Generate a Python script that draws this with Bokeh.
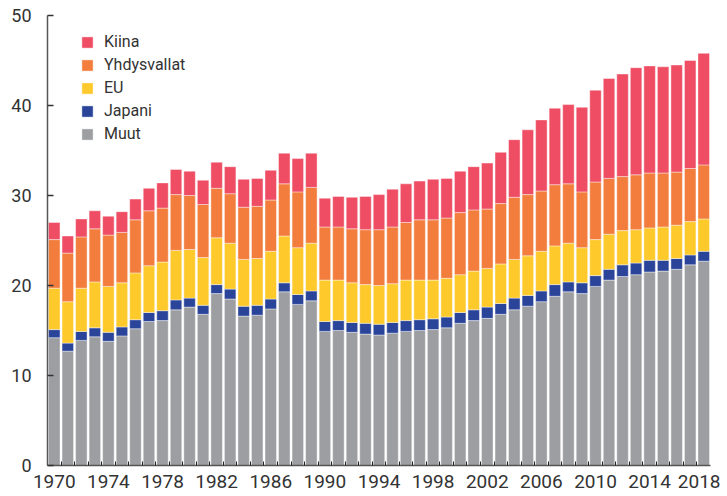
from bokeh.plotting import figure
from bokeh.models import ColumnDataSource, FixedTicker, Legend, LegendItem, Range1d
from bokeh.embed import file_html
from bokeh.resources import INLINE

years = list(range(1970, 2019))
tick_years = list(range(1970, 2019, 4))

muut = [14.2, 12.7, 13.9, 14.3, 13.8, 14.4, 15.2, 16.0, 16.1, 17.3,
        17.6, 16.8, 19.1, 18.5, 16.6, 16.7, 17.4, 19.3, 17.9, 18.3,
        14.9, 15.0, 14.8, 14.6, 14.5, 14.7, 14.9, 15.0, 15.1, 15.3,
        15.8, 16.1, 16.35, 16.8, 17.3, 17.7, 18.2, 18.8, 19.3, 19.1,
        19.9, 20.6, 21.0, 21.2, 21.5, 21.6, 21.8, 22.3, 22.7]
japani = [0.9, 0.9, 1.0, 1.0, 1.0, 1.0, 1.0, 1.0, 1.1, 1.1,
          1.0, 1.0, 1.0, 1.1, 1.1, 1.1, 1.1, 1.0, 1.1, 1.1,
          1.1, 1.1, 1.1, 1.2, 1.2, 1.2, 1.2, 1.2, 1.2, 1.2,
          1.2, 1.2, 1.25, 1.2, 1.3, 1.2, 1.2, 1.3, 1.1, 1.2,
          1.2, 1.2, 1.3, 1.3, 1.3, 1.2, 1.2, 1.1, 1.1]
eu = [4.6, 4.6, 4.8, 5.1, 5.1, 4.9, 5.2, 5.2, 5.4, 5.5,
      5.4, 5.3, 5.2, 5.1, 5.2, 5.2, 5.3, 5.2, 5.2, 5.3,
      4.6, 4.5, 4.4, 4.3, 4.3, 4.3, 4.5, 4.4, 4.3, 4.3,
      4.2, 4.3, 4.3, 4.4, 4.3, 4.4, 4.4, 4.3, 4.3, 3.9,
      4.0, 3.9, 3.8, 3.7, 3.6, 3.7, 3.7, 3.7, 3.6]
yhdysvallat = [5.4, 5.4, 5.7, 5.9, 5.7, 5.6, 5.9, 6.1, 6.0, 6.2,
               6.0, 5.9, 5.5, 5.5, 5.8, 5.8, 5.7, 5.8, 6.2, 6.2,
               5.9, 5.9, 6.0, 6.1, 6.2, 6.3, 6.4, 6.7, 6.7, 6.7,
               6.9, 6.8, 6.6, 6.7, 6.9, 6.8, 6.7, 6.8, 6.6, 6.2,
               6.4, 6.2, 6.0, 6.1, 6.1, 6.0, 5.9, 5.9, 6.0]
kiina = [1.9, 1.9, 2.0, 2.0, 2.1, 2.3, 2.3, 2.5, 2.8, 2.8,
         2.7, 2.7, 2.9, 3.0, 3.1, 3.1, 3.3, 3.4, 3.7, 3.8,
         3.2, 3.4, 3.5, 3.7, 3.9, 4.2, 4.3, 4.3, 4.5, 4.4,
         4.6, 4.8, 5.1, 5.7, 6.4, 7.2, 7.9, 8.5, 8.8, 9.4,
         10.2, 11.1, 11.4, 11.9, 11.9, 11.8, 11.9, 12.0, 12.4]

series = ["Muut", "Japani", "EU", "Yhdysvallat", "Kiina"]
colors = ["#9c9ea2", "#2a449a", "#fec92a", "#f27d3d", "#ee4d64"]

src = ColumnDataSource(dict(year=years, Muut=muut, Japani=japani, EU=eu,
                            Yhdysvallat=yhdysvallat, Kiina=kiina))

FONT = "Roboto"
TXT = "#333333"

p = figure(frame_width=663, frame_height=450, output_backend="svg",
           toolbar_location=None,
           x_range=Range1d(1969.5, 2018.5), y_range=Range1d(0, 50),
           min_border_left=47, min_border_right=10, min_border_top=15,
           min_border_bottom=31)
p.outline_line_color = None
p.xgrid.visible = False
p.ygrid.visible = False

renderers = p.vbar_stack(series, x="year", width=0.85, source=src,
                         color=colors, line_color="white", line_width=0.6,
                         line_alpha=0.7)

# y axis
p.yaxis.ticker = FixedTicker(ticks=[0, 10, 20, 30, 40, 50])
p.yaxis.major_tick_in = 6
p.yaxis.major_tick_out = 0
p.yaxis.minor_tick_line_color = None
p.yaxis.axis_line_color = "#555555"
p.yaxis.axis_line_width = 1.5
p.yaxis.major_tick_line_color = "#333333"
p.yaxis.major_tick_line_width = 1.5
p.yaxis.major_label_text_font = FONT
p.yaxis.major_label_text_font_size = "18px"
p.yaxis.major_label_text_color = TXT
p.yaxis.major_label_standoff = 16

# x axis
p.xaxis.ticker = FixedTicker(ticks=tick_years,
                             minor_ticks=[y + 0.5 for y in years[:-1]])
p.xaxis.major_tick_in = 0
p.xaxis.major_tick_out = 0
p.xaxis.minor_tick_in = 4
p.xaxis.minor_tick_out = 0
p.xaxis.minor_tick_line_color = "#222222"
p.xaxis.axis_line_color = "#555555"
p.xaxis.axis_line_width = 1.5
p.xaxis.major_label_text_font = FONT
p.xaxis.major_label_text_font_size = "19px"
p.xaxis.major_label_text_color = TXT
p.xaxis.major_label_standoff = 9

items = [LegendItem(label=s, renderers=[r]) for s, r in zip(series, renderers)][::-1]
legend = Legend(items=items, location=(33, 322), padding=0, margin=0, spacing=4,
                glyph_width=14, glyph_height=14, label_standoff=10,
                label_text_font=FONT, label_text_font_size="16px",
                label_text_color=TXT, border_line_color=None,
                background_fill_alpha=0)
p.add_layout(legend)

open("out.html", "w").write(file_html(p, INLINE))
